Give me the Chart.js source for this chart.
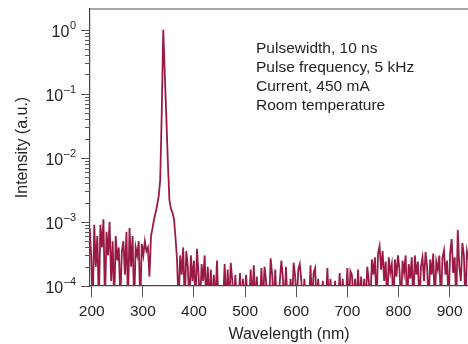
<!DOCTYPE html>
<html>
<head>
<meta charset="utf-8">
<script src="https://cdn.jsdelivr.net/npm/chart.js@4.4.1/dist/chart.umd.min.js"></script>
<style>
  html, body { margin: 0; padding: 0; background: #fff; }
</style>
</head>
<body>
<canvas id="spectrum" width="468" height="344"></canvas>
<script>
const wavelength = [
  196, 199, 202, 205, 208, 211, 214, 217, 220, 223,
  226, 229, 232, 235, 238, 241, 244, 247, 250, 253,
  256, 259, 262, 265, 268, 271, 274, 277, 280, 283,
  286, 289, 292, 295, 298, 301, 304, 307, 310, 313,
  316, 319, 322, 325, 328, 331, 334, 337, 340, 343,
  346, 349, 352, 355, 358, 361, 364, 367, 370, 373,
  376, 379, 382, 385, 388, 391, 394, 397, 400, 403,
  406, 409, 412, 415, 418, 421, 424, 427, 430, 433,
  436, 439, 442, 445, 448, 451, 454, 457, 460, 463,
  466, 469, 472, 475, 478, 481, 484, 487, 490, 493,
  496, 499, 502, 505, 508, 511, 514, 517, 520, 523,
  526, 529, 532, 535, 538, 541, 544, 547, 550, 553,
  556, 559, 562, 565, 568, 571, 574, 577, 580, 583,
  586, 589, 592, 595, 598, 601, 604, 607, 610, 613,
  616, 619, 622, 625, 628, 631, 634, 637, 640, 643,
  646, 649, 652, 655, 658, 661, 664, 667, 670, 673,
  676, 679, 682, 685, 688, 691, 694, 697, 700, 703,
  706, 709, 712, 715, 718, 721, 724, 727, 730, 733,
  736, 739, 742, 745, 748, 751, 754, 757, 760, 763,
  766, 769, 772, 775, 778, 781, 784, 787, 790, 793,
  796, 799, 802, 805, 808, 811, 814, 817, 820, 823,
  826, 829, 832, 835, 838, 841, 844, 847, 850, 853,
  856, 859, 862, 865, 868, 871, 874, 877, 880, 883,
  886, 889, 892, 895, 898, 901, 904, 907, 910, 913,
  916, 919, 922, 925, 928, 931, 934, 937
];

const intensity = [
  8e-4, 3e-4, 5e-5, 9e-4, 2e-4, 6e-4, 5e-5, 9e-4, 4e-4, 1.1e-3,
  5e-5, 7e-4, 3e-4, 1e-3, 1.2e-4, 5e-4, 5e-5, 6e-4, 2.5e-4, 4e-4,
  6e-5, 3.5e-4, 5e-4, 1.5e-4, 7e-4, 5e-5, 8e-4, 2e-4, 6e-4, 5e-5,
  4e-4, 3e-4, 5e-4, 5e-5, 4.5e-4, 3e-4, 5e-4, 3.5e-4, 4e-4, 1.4e-4,
  6e-4, 8e-4, 1.1e-3, 1.4e-3, 1.8e-3, 2.5e-3, 4.5e-3, 5e-2, 1, 0.2,
  4.2e-2, 8.5e-3, 2.2e-3, 1.6e-3, 1.4e-3, 1.1e-3, 5.6e-4, 2.5e-4, 5e-5, 3e-4,
  1.5e-4, 4e-4, 5e-5, 3.5e-4, 2e-4, 5e-5, 3e-4, 1.2e-4, 2.5e-4, 5e-5,
  3.8e-4, 1.5e-4, 5e-5, 2.2e-4, 1.2e-4, 3e-4, 5e-5, 2e-4, 5e-5, 1.8e-4,
  5e-5, 1.5e-4, 5e-5, 2.5e-4, 5e-5, 5e-5, 5e-5, 5e-5, 2.2e-4, 5e-5,
  1.8e-4, 5e-5, 2.3e-4, 1.2e-4, 5e-5, 1.5e-4, 5e-5, 5e-5, 1.6e-4, 5e-5,
  1.3e-4, 5e-5, 1.5e-4, 5e-5, 5e-5, 1.8e-4, 5e-5, 2.1e-4, 5e-5, 1.4e-4,
  5e-5, 5e-5, 1.9e-4, 5e-5, 2e-4, 1.2e-4, 5e-5, 5e-5, 2.7e-4, 1.5e-4,
  5e-5, 1.8e-4, 5e-5, 5e-5, 1.2e-4, 2.5e-4, 1.3e-4, 5e-5, 2e-4, 5e-5,
  5e-5, 1.3e-4, 5e-5, 2.3e-4, 1.4e-4, 5e-5, 1.8e-4, 2.2e-4, 1.2e-4, 5e-5,
  1.3e-4, 5e-5, 5e-5, 5e-5, 2.1e-4, 5e-5, 1.6e-4, 1.9e-4, 5e-5, 1.3e-4,
  5e-5, 5e-5, 1.2e-4, 5e-5, 5e-5, 1.9e-4, 5e-5, 1.3e-4, 5e-5, 5e-5,
  1.2e-4, 5e-5, 5e-5, 1.6e-4, 5e-5, 1.3e-4, 5e-5, 5e-5, 1.9e-4, 5e-5,
  1.7e-4, 1.5e-4, 5e-5, 1.3e-4, 5e-5, 1.8e-4, 5e-5, 1.4e-4, 5e-5, 1.3e-4,
  5e-5, 2e-4, 1.2e-4, 5e-5, 2.6e-4, 1.5e-4, 2.8e-4, 5e-5, 3.2e-4, 4.2e-4,
  1.8e-4, 3.5e-4, 1.2e-4, 2.4e-4, 5e-5, 2.8e-4, 1.6e-4, 2.2e-4, 5e-5, 2.6e-4,
  1.4e-4, 3e-4, 1.8e-4, 5e-5, 2.5e-4, 1.6e-4, 3e-4, 5e-5, 2.2e-4, 1.3e-4,
  2.8e-4, 5e-5, 3e-4, 1.5e-4, 2.4e-4, 5e-5, 2e-4, 2.8e-4, 1.2e-4, 3.4e-4,
  2e-4, 5e-5, 2.6e-4, 1.5e-4, 3.2e-4, 5e-5, 2.4e-4, 1.8e-4, 3e-4, 5e-5,
  2.7e-4, 3.6e-4, 1.5e-4, 2.5e-4, 5e-5, 3.2e-4, 5.4e-4, 1.6e-4, 2.8e-4, 5e-5,
  7.5e-4, 2e-4, 1.2e-4, 4.7e-4, 3e-4, 5e-5, 3.5e-4, 2.6e-4
];

const yDecades = [0, -1, -2, -3, -4];
const notes = ["Pulsewidth, 10 ns", "Pulse frequency, 5 kHz", "Current, 450 mA", "Room temperature"];

const FONT = '"Liberation Sans", Arial, Helvetica, sans-serif';
const INK = "#231f20";

// axis decorations: top frame, log ticks, 10^n labels, x title, notes
const frame = {
    id: "frame",
    afterDraw: function (chart) {
        var ctx = chart.ctx;
        var a = chart.chartArea;
        var y = chart.scales.y;
        ctx.save();

        ctx.strokeStyle = "#8c8c8c";
        ctx.lineWidth = 1.5;
        ctx.beginPath();
        ctx.moveTo(a.left, a.top);
        ctx.lineTo(a.right, a.top);
        ctx.stroke();

        ctx.strokeStyle = "#555";
        ctx.lineWidth = 1;
        yDecades.forEach(function (e) {
            var top = e === 0 ? 1 : 9;
            for (var m = 1; m <= top; m++) {
                var py = Math.round(y.getPixelForValue(m * Math.pow(10, e))) + 0.5;
                var len = m === 1 ? 9 : 5;
                ctx.beginPath();
                ctx.moveTo(a.left - len, py);
                ctx.lineTo(a.left, py);
                ctx.stroke();
            }
        });

        ctx.fillStyle = INK;
        ctx.textBaseline = "alphabetic";
        yDecades.forEach(function (e) {
            var py = y.getPixelForValue(Math.pow(10, e));
            var sup = e === 0 ? "0" : "\u2013" + (-e);
            var right = a.left - 14;
            ctx.font = "11px " + FONT;
            var ws = ctx.measureText(sup).width;
            ctx.textAlign = "left";
            ctx.fillText(sup, right - ws, py - 1);
            ctx.font = "16px " + FONT;
            ctx.textAlign = "right";
            ctx.fillText("10", right - ws - 0.5, py + 7);
        });

        ctx.font = "16px " + FONT;
        ctx.textAlign = "center";
        ctx.fillText("Wavelength (nm)", 289, 339);

        ctx.font = "15.5px " + FONT;
        ctx.textAlign = "left";
        notes.forEach(function (t, i) {
            ctx.fillText(t, 256, 53 + i * 19);
        });
        ctx.restore();
    }
};

var ctx = document.getElementById("spectrum").getContext("2d");
var spectrumChart = new Chart(ctx, {
    type: "line",
    data: {
        datasets: [
            {
                data: wavelength.map(function (w, i) { return { x: w, y: intensity[i] }; }),
                borderColor: "#9a1a45",
                borderWidth: 1.8,
                pointRadius: 0,
                tension: 0,
                fill: false,
            },
        ],
    },
    options: {
        responsive: false,
        animation: false,
        layout: { padding: { top: 9, left: 0, right: 0, bottom: 0 } },
        plugins: {
            legend: { display: false },
            tooltip: { enabled: false },
        },
        scales: {
            x: {
                type: "linear",
                min: 196.7,
                max: 936,
                afterFit: function (s) { s.height = 58; },
                ticks: {
                    stepSize: 100,
                    includeBounds: false,
                    color: INK,
                    padding: 5,
                    font: { family: FONT, size: 15.5 },
                    maxRotation: 0,
                },
                grid: {
                    drawOnChartArea: false,
                    drawTicks: true,
                    tickLength: 11,
                    tickColor: "#555",
                },
                border: { color: "#444", width: 1.2 },
            },
            y: {
                type: "logarithmic",
                min: 1e-4,
                max: 2.1,
                afterFit: function (s) { s.width = 90; },
                ticks: { display: false },
                grid: { display: false },
                border: { display: true, color: "#444", width: 1.2 },
                title: {
                    display: true,
                    text: "Intensity (a.u.)",
                    color: INK,
                    font: { family: FONT, size: 16 },
                    padding: { top: 13, bottom: 0 },
                },
            },
        },
    },
    plugins: [frame],
});
</script>
</body>
</html>
